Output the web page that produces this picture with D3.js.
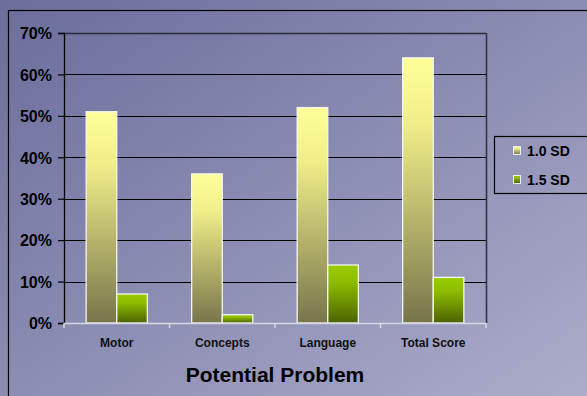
<!DOCTYPE html>
<html>
<head>
<meta charset="utf-8">
<script src="https://cdn.jsdelivr.net/npm/d3@7"></script>
<style>
  body { margin: 0; padding: 0; overflow: hidden; }
  svg { display: block; font-family: "Liberation Sans", Arial, sans-serif; }
</style>
</head>
<body>
<svg id="chart"></svg>
<script>
// chart data
const categories = ['Motor', 'Concepts', 'Language', 'Total Score'];
const seriesNames = ['1.0 SD', '1.5 SD'];
const sd10 = [51, 36, 52, 64];
const sd15 = [7, 2, 14, 11];
const yTicks = [0, 10, 20, 30, 40, 50, 60, 70];

const width = 587, height = 396;
const margin = {top: 33, right: 101, bottom: 73, left: 64};

const svg = d3.select('#chart')
    .attr('width', width)
    .attr('height', height);

const defs = svg.append('defs');

// slide background
const bg = defs.append('linearGradient')
    .attr('id', 'bg')
    .attr('x1', 0).attr('y1', 0).attr('x2', 1).attr('y2', 1);
bg.append('stop').attr('offset', '0%').attr('stop-color', '#6b6d9b');
bg.append('stop').attr('offset', '100%').attr('stop-color', '#acacca');

const g1 = defs.append('linearGradient')
    .attr('id', 'grad10')
    .attr('x1', 0).attr('y1', 0).attr('x2', 0).attr('y2', 1);
g1.append('stop').attr('offset', '0%').attr('stop-color', '#ffff99');
g1.append('stop').attr('offset', '25%').attr('stop-color', '#f0ee88');
g1.append('stop').attr('offset', '100%').attr('stop-color', '#77754b');

const g2 = defs.append('linearGradient')
    .attr('id', 'grad15')
    .attr('x1', 0).attr('y1', 0).attr('x2', 0).attr('y2', 1);
g2.append('stop').attr('offset', '0%').attr('stop-color', '#99cc00');
g2.append('stop').attr('offset', '30%').attr('stop-color', '#8dbd00');
g2.append('stop').attr('offset', '100%').attr('stop-color', '#4b6200');

svg.append('rect')
    .attr('width', width)
    .attr('height', height)
    .attr('fill', 'url(#bg)');

// outer chart frame
svg.append('rect')
    .attr('x', 8.5).attr('y', 10.5)
    .attr('width', width + 10).attr('height', height + 10)
    .attr('fill', 'none')
    .attr('stroke', '#000')
    .attr('stroke-width', 1.2);

const innerW = width - margin.left - margin.right;
const innerH = height - margin.top - margin.bottom;

const chart = svg.append('g')
    .attr('transform', `translate(${margin.left},${margin.top})`);

const xScale = d3.scaleBand()
    .domain(categories)
    .range([0, innerW])
    .paddingInner(0.42)
    .paddingOuter(0.21);

const xSub = d3.scaleBand()
    .domain(seriesNames)
    .range([0, xScale.bandwidth()]);

const yScale = d3.scaleLinear()
    .domain([0, 70])
    .range([innerH, 0]);

// gridlines
chart.selectAll('.grid')
    .data(yTicks.slice(1))
    .join('line')
    .attr('class', 'grid')
    .attr('x1', 0).attr('x2', innerW)
    .attr('y1', d => Math.round(yScale(d)) + 0.5)
    .attr('y2', d => Math.round(yScale(d)) + 0.5)
    .attr('stroke', d => d === 70 ? '#2a2a3a' : '#000')
    .attr('stroke-width', d => d === 70 ? 1.6 : 1.2);

// right border of plot
chart.append('line')
    .attr('x1', innerW + 0.5).attr('x2', innerW + 0.5)
    .attr('y1', 0).attr('y2', innerH)
    .attr('stroke', '#333344')
    .attr('stroke-width', 1.6);

// y axis
const yAxis = d3.axisLeft(yScale)
    .tickValues(yTicks)
    .tickSize(6)
    .tickFormat(d => d + '%');

const yAxisG = chart.append('g').call(yAxis);
yAxisG.select('.domain').attr('stroke', '#000').attr('stroke-width', 1.3);
yAxisG.selectAll('.tick line').attr('stroke', '#000').attr('stroke-width', 1.2);
yAxisG.selectAll('.tick text')
    .attr('x', -12)
    .attr('dy', '0.36em')
    .attr('fill', '#000')
    .style('font-size', '16px')
    .style('font-weight', 'bold');

// bars
const rows = categories.map((c, i) => ({cat: c, values: [sd10[i], sd15[i]]}));

const groups = chart.selectAll('.bar-group')
    .data(rows)
    .join('g')
    .attr('class', 'bar-group')
    .attr('transform', d => `translate(${xScale(d.cat)},0)`);

groups.selectAll('rect')
    .data(d => d.values.map((v, j) => ({name: seriesNames[j], value: v, j: j})))
    .join('rect')
    .attr('x', d => xSub(d.name))
    .attr('y', d => yScale(d.value))
    .attr('width', xSub.bandwidth())
    .attr('height', d => innerH - yScale(d.value))
    .attr('fill', d => d.j === 0 ? 'url(#grad10)' : 'url(#grad15)')
    .attr('stroke', '#f4f4f0')
    .attr('stroke-width', 1.3);

// x axis
const xEdges = d3.range(categories.length + 1).map(i => i * innerW / categories.length);
const xAxisG = chart.append('g')
    .attr('transform', `translate(0,${innerH})`);
xAxisG.append('line')
    .attr('x1', 0).attr('x2', innerW)
    .attr('y1', 0.5).attr('y2', 0.5)
    .attr('stroke', '#d8d8e4')
    .attr('stroke-width', 1.5);
xAxisG.selectAll('.xtick')
    .data(xEdges)
    .join('line')
    .attr('class', 'xtick')
    .attr('x1', d => d).attr('x2', d => d)
    .attr('y1', 0).attr('y2', 5)
    .attr('stroke', '#d8d8e4')
    .attr('stroke-width', 1.5);
xAxisG.selectAll('.xlabel')
    .data(categories)
    .join('text')
    .attr('class', 'xlabel')
    .attr('x', d => xScale(d) + xScale.bandwidth() / 2)
    .attr('y', 24)
    .attr('text-anchor', 'middle')
    .attr('fill', '#111')
    .style('font-size', '12px')
    .style('font-weight', 'bold')
    .text(d => d);

// axis title
svg.append('text')
    .attr('x', margin.left + innerW / 2)
    .attr('y', 382)
    .attr('text-anchor', 'middle')
    .attr('fill', '#000')
    .style('font-size', '21px')
    .style('font-weight', 'bold')
    .text('Potential Problem');

// legend
const legend = svg.append('g')
    .attr('transform', 'translate(494,136)');
legend.append('rect')
    .attr('x', 0.5).attr('y', 0.5)
    .attr('width', 120).attr('height', 57)
    .attr('fill', 'none')
    .attr('stroke', '#000')
    .attr('stroke-width', 1.2);

const items = legend.selectAll('.item')
    .data(seriesNames)
    .join('g')
    .attr('class', 'item')
    .attr('transform', (d, i) => `translate(0,${15 + i * 29})`);
items.append('rect')
    .attr('x', 19.5).attr('y', -4.5)
    .attr('width', 7).attr('height', 8)
    .attr('fill', (d, i) => i === 0 ? 'url(#grad10)' : 'url(#grad15)')
    .attr('stroke', '#eeeeee')
    .attr('stroke-width', 1);
items.append('text')
    .attr('x', 33)
    .attr('y', 5)
    .attr('fill', '#000')
    .style('font-size', '14px')
    .style('font-weight', 'bold')
    .text(d => d);
</script>
</body>
</html>
